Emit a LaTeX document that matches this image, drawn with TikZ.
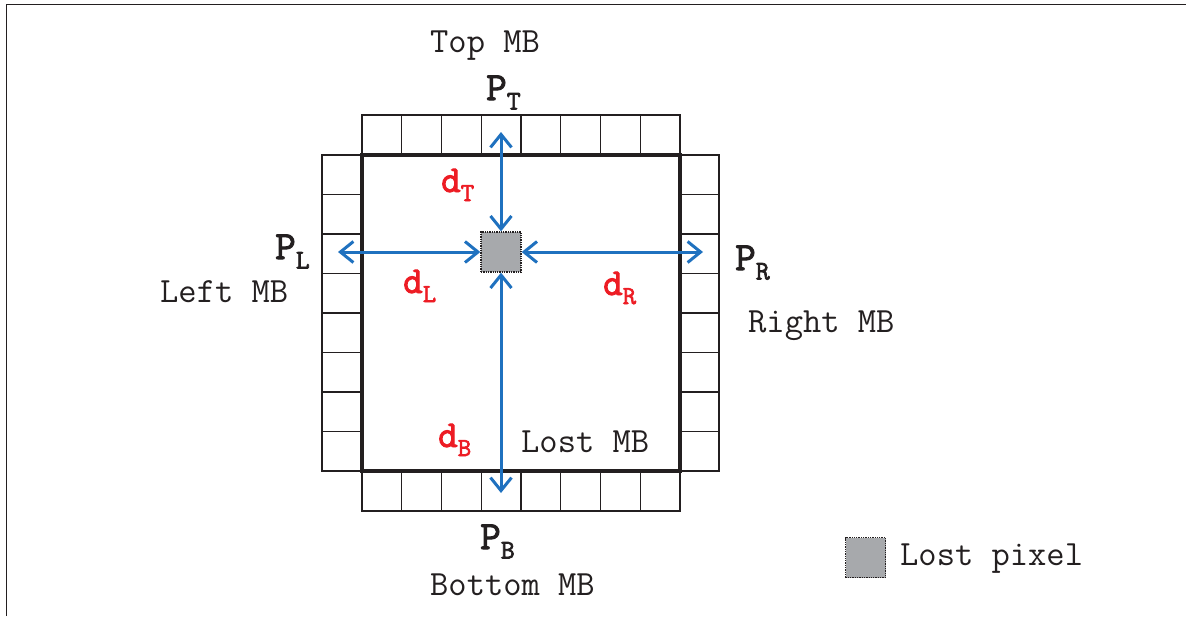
\documentclass[tikz,border=0pt]{standalone}
\usepackage{fontspec}
\newfontfamily\bmono{Latin Modern Mono}[FakeBold=2.5]
\usetikzlibrary{arrows.meta}
\definecolor{ink}{HTML}{231F20}
\definecolor{arrblue}{HTML}{1F71BF}
\definecolor{lblred}{HTML}{ED1C24}
\definecolor{pixgray}{HTML}{A7A9AC}
\newcommand{\txt}[1]{{\ttfamily\fontsize{35.5}{38}\selectfont #1}}
\newcommand{\plbl}[2]{{\bmono\fontsize{40}{42}\selectfont #1}\raisebox{-9.5pt}[\height][0pt]{\bmono\fontsize{27}{30}\selectfont #2}}
\newcommand{\dlbl}[2]{{\bmono\fontsize{38}{40}\selectfont #1}\raisebox{-9pt}[\height][0pt]{\bmono\fontsize{26}{28}\selectfont #2}}
\tikzset{
  cell/.style={draw=ink, line width=1.3pt},
  pixel/.style={rectangle, draw=ink, densely dotted, line width=1.3pt, fill=pixgray, minimum size=40pt, inner sep=0pt},
  arr/.style={draw=arrblue, line width=3pt, {Straight Barb[length=13pt,width=21pt]}-{Straight Barb[length=13pt,width=21pt]}},
  lab/.style={anchor=base west, inner sep=0pt, text=ink},
  redlab/.style={anchor=base west, inner sep=0pt, text=lblred}
}
\begin{document}
\begin{tikzpicture}[x=1pt,y=-1pt]
\useasboundingbox (0,0) rectangle (1186,616);
% partial frame
\draw[ink, line width=1.5pt] (6.5,616) -- (6.5,4.5) -- (1186,4.5);
% neighbouring cells
\foreach \i in {0,...,7}{
  \draw[cell] ({362+\i*39.75},115) rectangle ++(39.75,40);
  \draw[cell] ({362+\i*39.75},471) rectangle ++(39.75,40);
  \draw[cell] (322,{155+\i*39.5}) rectangle ++(40,39.5);
  \draw[cell] (680,{155+\i*39.5}) rectangle ++(39,39.5);
}
% lost macroblock
\draw[ink, line width=4pt] (362,155) rectangle (680,471);
% lost pixel
\node[pixel] (px) at (501,252) {};
\coordinate (tT) at (501,132);
\coordinate (tB) at (501,493);
\coordinate (tL) at (338,252);
\coordinate (tR) at (703,252);
\draw[arr] (tT) -- (px.north);
\draw[arr] (tB) -- (px.south);
\draw[arr] (tL) -- (px.west);
\draw[arr] (tR) -- (px.east);
% labels
\node[lab] (topmb) at (430,52) {\txt{Top MB}};
\node[lab] (leftmb) at (160,302) {\txt{Left MB}};
\node[lab] (rightmb) at (748,332) {\txt{Right MB}};
\node[lab] (lostmb) at (521,452) {\txt{Lost MB}};
\node[lab] (bottommb) at (430,595) {\txt{Bottom MB}};
\node[pixel] (leg) at (865.5,557.5) {};
\node[lab] (legtxt) at (900,565) {\txt{Lost pixel}};
\node[lab] (pt) at (486,100) {\plbl{P}{T}};
\node[lab] (pl) at (275,259) {\plbl{P}{L}};
\node[lab] (pr) at (735,270) {\plbl{P}{R}};
\node[lab] (pb) at (480,549) {\plbl{P}{B}};
\node[redlab] (dt) at (441,192) {\dlbl{d}{T}};
\node[redlab] (dl) at (403,293) {\dlbl{d}{L}};
\node[redlab] (dr) at (603,295) {\dlbl{d}{R}};
\node[redlab] (db) at (438,447) {\dlbl{d}{B}};
\end{tikzpicture}
\end{document}
